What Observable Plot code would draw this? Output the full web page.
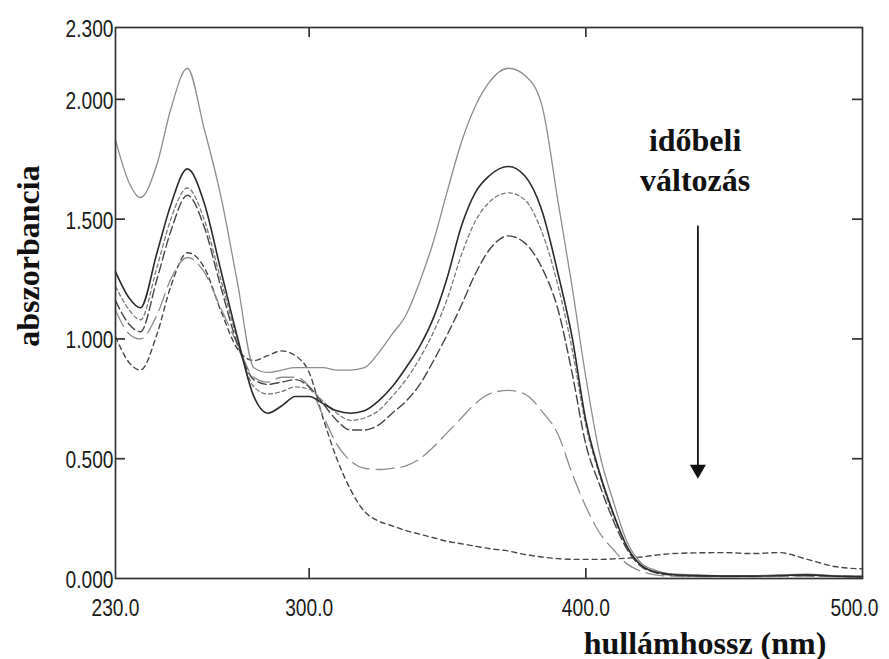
<!DOCTYPE html>
<html>
<head>
<meta charset="utf-8">
<script src="https://cdn.jsdelivr.net/npm/d3@7"></script>
<script src="https://cdn.jsdelivr.net/npm/@observablehq/plot@0.6"></script>
<style>
  html, body { margin: 0; padding: 0; background: #fff; }
  #chart svg { display: block; }
</style>
</head>
<body>
<div id="chart"></div>
<script>
// ---- data ----
const wavelengths = [230,235,239,245,250,256,262,268,274,280,285,290,295,300,305,310,315,320,325,330,335,340,345,350,355,360,365,372,378,384,390,395,400,405,410,415,420,425,430,440,450,460,470,480,490,500];

const absT1 = [1.83,1.65,1.59,1.73,1.96,2.13,1.88,1.60,1.24,0.88,0.86,0.87,0.88,0.88,0.88,0.87,0.87,0.88,0.94,1.02,1.10,1.24,1.41,1.62,1.82,1.97,2.07,2.13,2.10,1.98,1.57,1.22,0.84,0.52,0.32,0.15,0.065,0.035,0.02,0.015,0.012,0.012,0.015,0.018,0.012,0.01];
const absT2 = [1.28,1.17,1.13,1.36,1.56,1.71,1.57,1.29,1.01,0.76,0.69,0.72,0.76,0.76,0.73,0.70,0.69,0.70,0.74,0.80,0.88,0.97,1.09,1.26,1.47,1.61,1.68,1.72,1.68,1.54,1.27,1.01,0.66,0.44,0.27,0.13,0.055,0.028,0.018,0.012,0.01,0.01,0.012,0.015,0.01,0.008];
const absT3 = [1.22,1.12,1.08,1.30,1.50,1.63,1.50,1.25,1.00,0.80,0.77,0.78,0.80,0.79,0.74,0.69,0.66,0.67,0.70,0.76,0.83,0.92,1.03,1.17,1.35,1.49,1.57,1.61,1.58,1.45,1.22,0.96,0.64,0.43,0.26,0.13,0.055,0.028,0.018,0.012,0.01,0.01,0.012,0.015,0.01,0.008];
const absT4 = [1.16,1.06,1.03,1.25,1.45,1.60,1.47,1.22,0.98,0.83,0.81,0.82,0.83,0.80,0.73,0.66,0.62,0.62,0.64,0.69,0.74,0.81,0.91,1.02,1.14,1.27,1.37,1.43,1.40,1.30,1.12,0.86,0.56,0.39,0.24,0.12,0.05,0.025,0.015,0.01,0.01,0.01,0.012,0.012,0.01,0.008];
const absT5 = [1.12,1.02,1.00,1.10,1.25,1.34,1.28,1.13,0.98,0.84,0.82,0.84,0.84,0.80,0.68,0.56,0.49,0.46,0.455,0.46,0.47,0.50,0.55,0.61,0.67,0.73,0.77,0.785,0.77,0.70,0.60,0.44,0.30,0.19,0.12,0.06,0.03,0.015,0.01,0.008,0.008,0.008,0.01,0.01,0.008,0.006];
const absT6 = [1.01,0.90,0.87,1.02,1.22,1.36,1.30,1.12,0.96,0.91,0.93,0.95,0.93,0.86,0.67,0.50,0.37,0.28,0.24,0.22,0.20,0.185,0.17,0.155,0.145,0.135,0.125,0.115,0.10,0.09,0.083,0.08,0.08,0.08,0.082,0.085,0.09,0.097,0.103,0.107,0.108,0.104,0.108,0.08,0.05,0.04];

const seriesNames = ["t1","t2","t3","t4","t5","t6"];
const seriesValues = [absT1, absT2, absT3, absT4, absT5, absT6];

const yTickLabels = [0, 0.5, 1.0, 1.5, 2.0, 2.3];
const yInnerTicks = [0.5, 1.0, 1.5, 2.0];
const xTickLabels = [230, 300, 400, 500];
const xInnerTicks = [300, 400];

const yTitle = "abszorbancia";
const xTitle = "hullámhossz (nm)";
const noteLines = ["időbeli", "változás"];

// annotation anchor (data units)
const noteX = 439.5;
const noteY = [1.786, 1.619];
const arrowX = 440.5;
const arrowTop = 1.473;
const arrowHead = 0.455;

// ---- styles ----
const lineStyles = [
  {stroke: "#8c8c8c", width: 1.3, dash: null},
  {stroke: "#2b2b2b", width: 1.6, dash: null},
  {stroke: "#7a7a7a", width: 1.3, dash: "4,3"},
  {stroke: "#454545", width: 1.4, dash: "9,4"},
  {stroke: "#8c8c8c", width: 1.3, dash: "18,7"},
  {stroke: "#474747", width: 1.4, dash: "5,4"}
];

const W = 889, H = 659;
const mL = 115, mR = 27, mT = 27, mB = 81;
const innerW = W - mL - mR, innerH = H - mT - mB;
const tickLen = 10;
const tickLabelWidth = 48;

const rows = seriesNames.flatMap((name, i) =>
  wavelengths.map((w, j) => ({series: name, wl: w, abs: seriesValues[i][j]})));

const serif = "'Liberation Serif', 'Times New Roman', serif";
const sans = "'Liberation Sans', Arial, sans-serif";

const order = [5, 4, 3, 2, 0, 1];

const chart = Plot.plot({
  width: W,
  height: H,
  marginLeft: mL,
  marginRight: mR,
  marginTop: mT,
  marginBottom: mB,
  style: {background: "#fff", color: "#222"},
  x: {domain: [230, 500]},
  y: {domain: [0, 2.3]},
  marks: [
    ...order.map(i => Plot.line(rows.filter(d => d.series === seriesNames[i]), {
      x: "wl", y: "abs", curve: "monotone-x",
      stroke: lineStyles[i].stroke,
      strokeWidth: lineStyles[i].width,
      strokeDasharray: lineStyles[i].dash
    })),
    Plot.frame({stroke: "#333", strokeWidth: 1.7}),
    Plot.tickY(yInnerTicks, {y: d => d, insetRight: innerW - tickLen, stroke: "#333", strokeWidth: 1.7}),
    Plot.tickY(yInnerTicks, {y: d => d, insetLeft: innerW - tickLen, stroke: "#333", strokeWidth: 1.7}),
    Plot.tickX(xInnerTicks, {x: d => d, insetTop: innerH - tickLen, stroke: "#333", strokeWidth: 1.7}),
    Plot.tickX(xInnerTicks, {x: d => d, insetBottom: innerH - tickLen, stroke: "#333", strokeWidth: 1.7}),
    Plot.axisY({ticks: yTickLabels, tickSize: 0, tickPadding: 2, dy: 2,
      tickFormat: d3.format(".3f"), label: null,
      fontFamily: sans, fontSize: 23, fill: "#1a1a1a", stroke: "#1a1a1a", strokeWidth: 0.3}),
    Plot.axisX({ticks: xTickLabels, tickSize: 0, tickPadding: 21,
      tickFormat: d3.format(".1f"), label: null,
      fontFamily: sans, fontSize: 23, fill: "#1a1a1a", stroke: "#1a1a1a", strokeWidth: 0.3}),
    Plot.text([yTitle], {frameAnchor: "left", text: d => d, rotate: -90,
      lineAnchor: "bottom", textAnchor: "middle", dx: -77, dy: -47,
      fontFamily: serif, fontWeight: "bold", fontSize: 32, fill: "#111"}),
    Plot.text([xTitle], {frameAnchor: "bottom", text: d => d,
      lineAnchor: "bottom", textAnchor: "middle", dx: 216, dy: 75,
      fontFamily: serif, fontWeight: "bold", fontSize: 32, fill: "#111"}),
    Plot.text(noteLines, {x: () => noteX, y: (d, i) => noteY[i], text: d => d,
      lineAnchor: "bottom", textAnchor: "middle",
      fontFamily: serif, fontWeight: "bold", fontSize: 32, fill: "#111"}),
    Plot.link([0], {x1: () => arrowX, x2: () => arrowX, y1: () => arrowTop, y2: () => arrowHead,
      stroke: "#111", strokeWidth: 1.8}),
    Plot.dot([0], {x: () => arrowX, y: () => arrowHead, symbol: "triangle", rotate: 180,
      r: 6, fill: "#111", stroke: null})
  ]
});

// condense the instrument-style tick labels to the narrow width seen in the reference
chart.querySelectorAll('g[aria-label="y-axis tick label"] text, g[aria-label="x-axis tick label"] text')
  .forEach(t => {
    t.setAttribute("textLength", tickLabelWidth);
    t.setAttribute("lengthAdjust", "spacingAndGlyphs");
  });
// keep the last x label (500.0) inside the page edge
const xLabels = chart.querySelectorAll('g[aria-label="x-axis tick label"] text');
if (xLabels.length) {
  const last = xLabels[xLabels.length - 1];
  last.setAttribute("text-anchor", "end");
  last.setAttribute("dx", String(tickLabelWidth / 2 - 8));
}

document.getElementById("chart").appendChild(chart);
</script>
</body>
</html>
